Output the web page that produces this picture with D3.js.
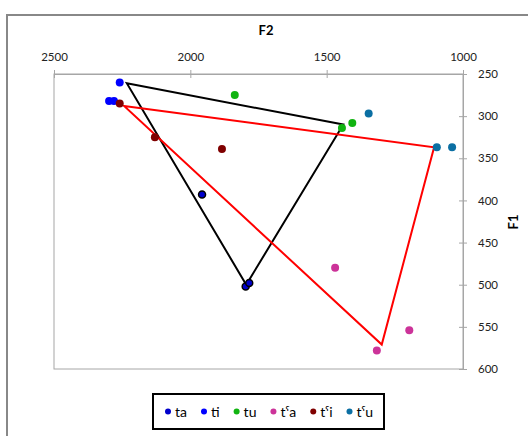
<!DOCTYPE html>
<html><head><meta charset="utf-8">
<script src="https://cdn.jsdelivr.net/npm/d3@7"></script>
<style>
body{margin:0;background:#fff;}
text{font-family:Lato,"Open Sans","DejaVu Sans",sans-serif;}
</style></head>
<body><svg id="c" width="528" height="436"></svg>
<script>
const seriesNames = ["ta","ti","tu","tˤa","tˤi","tˤu"];
const seriesColors = ["#0000cc","#0000ff","#11b411","#cc3399","#7f0000","#0b6fa3"];
// [F2, F1] per series
const ta  = [[1957,393],[1797,502],[1784,498]];
const ti  = [[2259,260],[2298,282],[2280,282]];
const tu  = [[1837,275],[1444,314],[1406,308]];
const tfa = [[1469,480],[1316,578],[1197,554]];
const tfi = [[2259,285],[2130,325],[1884,339]];
const tfu = [[1346,297],[1096,337],[1040,337]];
const plainTriangle = [[2233,261],[1439,310],[1795,500]];
const emphaticTriangle = [[2243,288],[1106,337],[1298,571]];
const xTicks = [2500,2000,1500,1000];
const yTicks = [250,300,350,400,450,500,550,600];

const series = [ta,ti,tu,tfa,tfi,tfu];
const svg = d3.select("#c");

// outer frame
svg.append("rect").attr("x",7).attr("y",15).attr("width",540).attr("height",440)
  .attr("fill","none").attr("stroke","#888").attr("stroke-width",2);

const L=54,R=463,T=74,B=369;
const x = d3.scaleLinear().domain([2500,1000]).range([L,R]);
const y = d3.scaleLinear().domain([250,600]).range([T,B]);

// plot border
svg.append("rect").attr("x",L).attr("y",T).attr("width",R-L).attr("height",B-T)
  .attr("fill","none").attr("stroke","#a6a6a6").attr("stroke-width",1);

// top axis
const xa = svg.append("g").attr("transform",`translate(0,${T})`)
  .call(d3.axisTop(x).tickValues(xTicks).tickSize(4).tickFormat(d3.format("d")));
xa.select(".domain").attr("stroke","#a6a6a6");
xa.selectAll(".tick line").attr("stroke","#a6a6a6").attr("y1",4);
xa.selectAll(".tick text").attr("font-size",11.5).attr("fill","#222").attr("dy",-6)
  .style("font-family","Lato,'Open Sans',sans-serif");

// right axis
const ya = svg.append("g").attr("transform",`translate(${R},0)`)
  .call(d3.axisRight(y).tickValues(yTicks).tickSize(4).tickFormat(d3.format("d")));
ya.select(".domain").attr("stroke","#a6a6a6");
ya.selectAll(".tick line").attr("stroke","#a6a6a6").attr("x1",-4);
ya.selectAll(".tick text").attr("font-size",11.5).attr("fill","#222").attr("x",15)
  .style("font-family","Lato,'Open Sans',sans-serif");

// titles
svg.append("text").attr("x",266).attr("y",35).attr("text-anchor","middle")
  .attr("font-size",13).attr("font-weight","bold").text("F2");
svg.append("text").attr("transform","translate(518,222) rotate(-90)").attr("text-anchor","middle")
  .attr("font-size",13).attr("font-weight","bold").text("F1");

// triangles
const line = d3.line().x(d=>x(d[0])).y(d=>y(d[1]));
svg.append("path").attr("d",line(plainTriangle)+"Z").attr("fill","none")
  .attr("stroke","#000").attr("stroke-width",2);
svg.append("path").attr("d",line(emphaticTriangle)+"Z").attr("fill","none")
  .attr("stroke","#ff0000").attr("stroke-width",2);

// points
series.forEach((s,i)=>{
  svg.append("g").selectAll("circle").data(s).join("circle")
    .attr("cx",d=>x(d[0])).attr("cy",d=>y(d[1])).attr("r",i===0?3.5:4)
    .attr("fill",seriesColors[i])
    .attr("stroke",i===0?"#000":"none").attr("stroke-width",i===0?1.5:0);
});

// legend
const lg = svg.append("g");
lg.append("rect").attr("x",153).attr("y",394).attr("width",231).attr("height",35)
  .attr("fill","#fff").attr("stroke","#000").attr("stroke-width",2);
let lx = 168;
seriesNames.forEach((n,i)=>{
  lg.append("circle").attr("cx",lx).attr("cy",411.5).attr("r",3).attr("fill",seriesColors[i]);
  const t = lg.append("text").attr("x",lx+7).attr("y",416.5).attr("font-size",14).attr("fill","#000").text(n);
  lx = lx + 7 + t.node().getComputedTextLength() + 17;
});
</script></body></html>
